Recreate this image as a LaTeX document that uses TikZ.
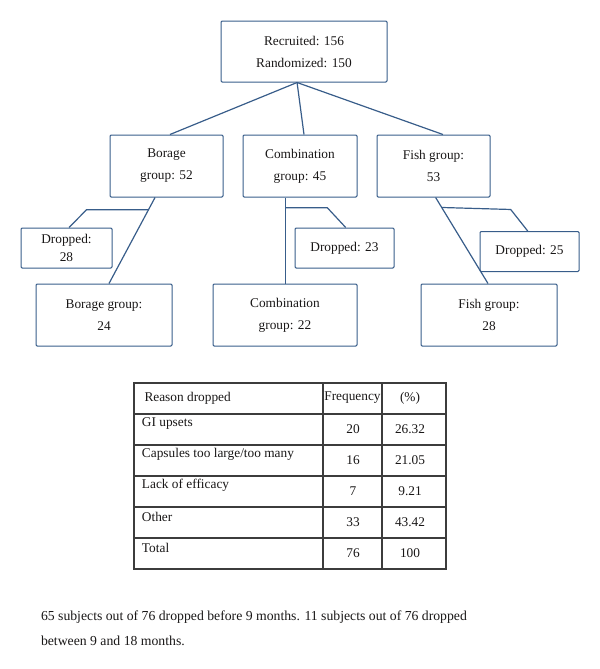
\documentclass[tikz,border=0pt]{standalone}
\usepackage{fontspec}
\setmainfont{Liberation Serif}

\definecolor{boxline}{RGB}{56,93,138}
\definecolor{tabline}{RGB}{60,60,60}
\definecolor{inktext}{RGB}{25,23,23}

\tikzset{every picture/.style={line width=0.75pt}}

\begin{document}
\begin{tikzpicture}[x=0.75pt,y=0.75pt,yscale=-1,xscale=1,
  box/.style={draw=boxline, rounded corners=0.8pt, align=center, inner sep=0pt, text=inktext, font=\fontsize{10}{16.5}\selectfont},
  link/.style={draw=boxline, line width=0.9pt},
  cell/.style={inner sep=0pt, text=inktext, font=\fontsize{10}{12}\selectfont},
  rule/.style={draw=tabline, line width=1.1pt}]
\path[use as bounding box] (0,0) rectangle (600,669);

%Flow chart boxes
\node[box, minimum width=124.5pt, minimum height=45.75pt] (recruit) at (304,51.5) {Recruited: 156\\Randomized: 150};
\node[box, minimum width=84.75pt, minimum height=46.5pt] (borage) at (166.5,166) {Borage\\group: 52};
\node[box, minimum width=85.5pt, minimum height=46.5pt] (combi) at (300,166) {Combination\\group: 45};
\node[box, minimum width=84.75pt, minimum height=46.5pt] (fish) at (433.5,166) {Fish group:\\53};
\node[box, minimum width=68.25pt, minimum height=30pt, font=\fontsize{10}{13.3}\selectfont] (dropB) at (66.5,248) {Dropped:\\28};
\node[box, minimum width=74.25pt, minimum height=30pt] (dropC) at (344.5,248) {Dropped: 23};
\node[box, minimum width=74.25pt, minimum height=30pt] (dropF) at (529.5,251.5) {Dropped: 25};
\node[box, minimum width=102pt, minimum height=46.5pt] (borageEnd) at (104,315) {Borage group:\\24};
\node[box, minimum width=108pt, minimum height=46.5pt] (combiEnd) at (285,315) {Combination\\group: 22};
\node[box, minimum width=102pt, minimum height=46.5pt] (fishEnd) at (489,315) {Fish group:\\28};

%Connections from the top box
\coordinate (apex) at ([xshift=-5.2pt]recruit.south);
\draw[link] (apex) -- ([xshift=2.6pt]borage.north);
\draw[link] (apex) -- ([xshift=3pt]combi.north);
\draw[link] (apex) -- ([xshift=7.1pt]fish.north);

%Borage branch
\draw[link] ([xshift=-8.6pt]borage.south) -- ([xshift=3.75pt]borageEnd.north) coordinate[pos=0.143] (borageKnee);
\draw[link] (borageKnee) -- ++(-62,0) -- ([xshift=1.9pt]dropB.north);

%Combination branch
\draw[link] ([xshift=0.3pt]combiEnd.north |- combi.south) -- ([xshift=0.3pt]combiEnd.north) coordinate[pos=0.12] (combiKnee);
\draw[link] (combiKnee) -- ++(42,0) -- ([xshift=0.9pt]dropC.north);

%Fish branch
\draw[link] ([xshift=1.6pt]fish.south) -- ([xshift=-0.75pt]fishEnd.north) coordinate[pos=0.116] (fishKnee);
\draw[link] (fishKnee) -- ++(69,2) -- ([xshift=-1.35pt]dropF.north);

%Table of reasons
\draw[rule] (134,383) rectangle (446,569);
\foreach \y in {414,445,476,507,538} \draw[rule] (134,\y) -- (446,\y);
\foreach \x in {323,382} \draw[rule] (\x,383) -- (\x,569);

\node[cell, anchor=west] (headReason) at (144,398) {Reason dropped};
\node[cell] (headFreq) at (352.5,398) {Frequency};
\node[cell] (headPct) at (410,398) {(\%)};

\foreach \reason/\freq/\pct [count=\i] in {GI upsets/20/26.32, {Capsules too large/too many}/16/21.05, Lack of efficacy/7/9.21, Other/33/43.42, Total/76/100}{
  \node[cell, anchor=west] (reason\i) at (141.5,{414+31*(\i-1)+9.5}) {\reason};
  \node[cell] (freq\i) at (353,{414+31*(\i-1)+15}) {\freq};
  \node[cell] (pct\i) at (410,{414+31*(\i-1)+15}) {\pct};
}

%Note under the table
\node[cell, anchor=west, align=left, font=\fontsize{10.3}{18.5}\selectfont] (note) at (40.5,628.3) {65 subjects out of 76 dropped before 9 months. 11 subjects out of 76 dropped\\between 9 and 18 months.};

\end{tikzpicture}
\end{document}
